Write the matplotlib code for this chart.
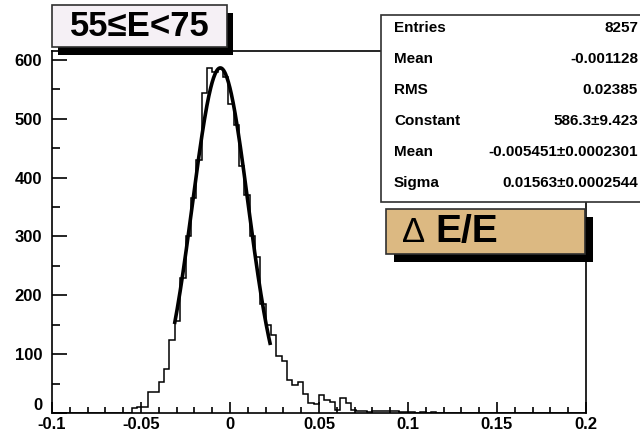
import matplotlib.pyplot as plt
import numpy as np
from matplotlib.patches import Rectangle
from matplotlib.ticker import MultipleLocator, FixedLocator

plt.rcParams['font.family'] = ['Liberation Sans', 'DejaVu Sans']

# histogram: 100 bins from -0.1 to 0.2
x_lo, x_hi, nbins = -0.1, 0.2, 100
counts = [0] * 15 + [
    8, 10, 11, 35, 36, 53, 74, 124, 157,
    230, 300, 365, 430, 544, 586, 580, 585, 570,
    525, 490, 420, 370, 300, 265, 185, 150, 133,
    96, 88, 56, 48, 53, 33, 17, 16, 31, 22, 19, 5, 25, 17,
    5, 4, 4, 1, 4, 4, 4, 3, 3, 2, 1, 1, 0, 1, 0, 1,
]
counts = counts + [0] * (nbins - len(counts))

# gaussian fit (from the stat box)
fit_const, fit_mean, fit_sigma = 586.3, -0.005451, 0.01563
fit_range = (-0.031, 0.0225)

stat_names = ["Entries", "Mean", "RMS", "Constant", "Mean", "Sigma"]
stat_values = ["8257", "-0.001128", "0.02385", "586.3±9.423",
               "-0.005451±0.0002301", "0.01563±0.0002544"]

x_ticks = [-0.1, -0.05, 0, 0.05, 0.1, 0.15, 0.2]
x_tick_labels = ["-0.1", "-0.05", "0", "0.05", "0.1", "0.15", "0.2"]
y_ticks = [0, 100, 200, 300, 400, 500, 600]

W, H = 640, 434
fig = plt.figure(figsize=(W / 100, H / 100), dpi=100)


def fx(px):
    return px / W


def fy(py):
    return 1 - py / H


ax = fig.add_axes([fx(52), fy(413), fx(586) - fx(52), fy(51) - fy(413)])
edges = np.linspace(x_lo, x_hi, nbins + 1)
ax.stairs(counts, edges, color="black", lw=1.1)

xf = np.linspace(fit_range[0], fit_range[1], 200)
yf = fit_const * np.exp(-0.5 * ((xf - fit_mean) / fit_sigma) ** 2)
ax.plot(xf, yf, color="black", lw=2.6)

ax.set_xlim(x_lo, x_hi)
ax.set_ylim(0, 615)
ax.xaxis.set_major_locator(FixedLocator(x_ticks))
ax.set_xticklabels(x_tick_labels)
ax.xaxis.set_minor_locator(MultipleLocator(0.01))
ax.yaxis.set_major_locator(FixedLocator(y_ticks))
ax.yaxis.set_minor_locator(MultipleLocator(50))
ax.tick_params(axis="x", which="major", direction="in", length=8, width=1.2,
               labelsize=12, pad=3)
ax.tick_params(axis="x", which="minor", direction="in", length=4, width=1.2)
ax.tick_params(axis="y", which="major", direction="in", length=11, width=1.2,
               labelsize=12, pad=7)
ax.tick_params(axis="y", which="minor", direction="in", length=6, width=1.2)
for lab in ax.get_xticklabels() + ax.get_yticklabels():
    lab.set_fontweight("bold")
# the "0" on the y axis sits just above the x labels
ax.get_yticklabels()[0].set_va("bottom")
for sp in ax.spines.values():
    sp.set_linewidth(1.2)


def box(x0, y0, x1, y1, fc, shadow=None):
    if shadow:
        dx, dy = shadow
        fig.add_artist(Rectangle((fx(x0 + dx), fy(y1 + dy)), fx(x1 - x0), fy(y0) - fy(y1),
                                 transform=fig.transFigure, fc="black", ec="none", zorder=5))
    fig.add_artist(Rectangle((fx(x0), fy(y1)), fx(x1 - x0), fy(y0) - fy(y1),
                             transform=fig.transFigure, fc=fc, ec="#303030", lw=1.2, zorder=6))


# title box
box(52, 5, 227, 47, "#f5f0f5", shadow=(6, 8))
fig.text(fx(140), fy(27), "55≤E<75", ha="center", va="center", fontsize=25,
         fontweight="bold", zorder=7)

# stat box
box(381, 15, 670, 202, "white")
for i, (name, val) in enumerate(zip(stat_names, stat_values)):
    yy = fy(28 + i * 31)
    fig.text(fx(394), yy, name, ha="left", va="center", fontsize=11,
             fontweight="bold", zorder=7)
    fig.text(fx(638), yy, val, ha="right", va="center", fontsize=11,
             fontweight="bold", zorder=7)

# delta E / E box
box(386, 209, 585, 254, "#dcb982", shadow=(8, 8))
fig.text(fx(402), fy(232), "Δ", ha="left", va="center", fontsize=25, zorder=7)
fig.text(fx(435), fy(232), "E/E", ha="left", va="center", fontsize=28,
         fontweight="bold", zorder=7)

fig.savefig("out.png", dpi=100)
